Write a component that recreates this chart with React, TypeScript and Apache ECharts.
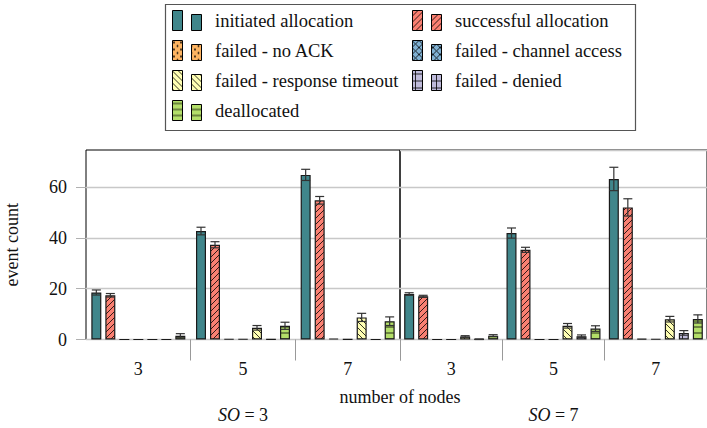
import React, { useEffect, useRef } from 'react';
import * as echarts from 'echarts';

// ---------- data ----------
const nodeCategories = ['3', '5', '7'];
const soValues = ['3', '7'];
const yTickValues = [0, 20, 40, 60];

const seriesNames = [
  'initiated allocation',
  'successful allocation',
  'failed - no ACK',
  'failed - channel access',
  'failed - response timeout',
  'failed - denied',
  'deallocated',
];

// each array: [SO=3: n=3, n=5, n=7,  SO=7: n=3, n=5, n=7]
const initiated = [18.5, 42.7, 64.8, 17.9, 41.9, 63.2];
const initiatedErr = [1.0, 1.5, 2.2, 0.5, 2.0, 4.6];
const successful = [17.4, 37.3, 54.8, 17.0, 35.3, 52.0];
const successfulErr = [0.7, 1.2, 1.5, 0.4, 1.0, 3.4];
const failedNoAck = [0, 0.2, 0.4, 0, 0, 0.3];
const failedNoAckErr = [0, 0, 0, 0, 0, 0];
const failedChannel = [0, 0.2, 0.1, 0, 0, 0.2];
const failedChannelErr = [0, 0, 0, 0, 0, 0];
const failedTimeout = [0, 4.6, 8.7, 1.2, 5.4, 8.0];
const failedTimeoutErr = [0, 0.9, 1.6, 0.3, 0.9, 1.1];
const failedDenied = [0, 0.1, 0, 0.1, 1.3, 2.6];
const failedDeniedErr = [0, 0, 0, 0.1, 0.5, 0.9];
const deallocated = [1.5, 5.4, 7.2, 1.5, 4.3, 8.1];
const deallocatedErr = [0.8, 1.4, 1.7, 0.4, 1.1, 1.6];

const allValues = [initiated, successful, failedNoAck, failedChannel, failedTimeout, failedDenied, deallocated];
const allErrors = [initiatedErr, successfulErr, failedNoAckErr, failedChannelErr, failedTimeoutErr, failedDeniedErr, deallocatedErr];

// ---------- styles ----------
const FONT = 'Liberation Serif, Times New Roman, serif';
const BAR_W = 10;
const BAR_GAP = 4;

function tile(bg: string, body: string, size: number) {
  const svg = `<svg xmlns="http://www.w3.org/2000/svg" width="${size}" height="${size}"><rect width="${size}" height="${size}" fill="${bg}"/>${body}</svg>`;
  return {
    image: 'data:image/svg+xml;charset=utf-8,' + encodeURIComponent(svg),
    repeat: 'repeat',
    imageWidth: size,
    imageHeight: size,
  };
}
const LS = 'stroke="#000" stroke-width="0.8" fill="none"';
const fills: any[] = [
  '#40868b',
  tile('#fa8072', `<path d="M-1,7 L7,-1 M-1,1 L1,-1 M6,8 L8,6" ${LS}/>`, 6),
  tile('#fdb462', `<circle cx="2" cy="2" r="0.9" fill="#000"/><circle cx="5.5" cy="5.5" r="0.9" fill="#000"/>`, 7),
  tile('#80b1d3', `<path d="M0,0 L7,7 M7,0 L0,7" ${LS}/>`, 7),
  tile('#ffffb3', `<path d="M-1,-1 L7,7 M5,-1 L7,1 M-1,5 L1,7" ${LS}/>`, 6),
  tile('#bebada', `<path d="M0,3.5 H7 M3.5,0 V7" ${LS}/>`, 7),
  tile('#b3de69', `<path d="M0,3 H6" ${LS}/>`, 6),
];

const LEGEND_ICON = 'path://M0,0h10v20h-10z M19,4h10v16h-10z';

export default function App() {
  const ref = useRef<HTMLDivElement>(null);
  useEffect(() => {
    if (!ref.current) return;
    const chart = echarts.init(ref.current, null, { renderer: 'svg' });

    const grids = [0, 1].map((p) => ({
      left: 86 + p * 314,
      top: 150,
      width: 314,
      height: 189.5,
      show: true,
      borderColor: '#000',
      borderWidth: 1,
      containLabel: false,
    }));

    const xAxes = [0, 1].map((p) => ({
      type: 'category',
      gridIndex: p,
      data: nodeCategories,
      axisLine: { show: false },
      axisTick: {
        show: true,
        length: 21,
        interval: (idx: number) => !(p === 0 && idx === 0),
        lineStyle: { color: '#999', width: 1 },
      },
      axisLabel: { fontSize: 18, fontFamily: FONT, color: '#111', margin: 20 },
      name: `{i|SO} = ${soValues[p]}`,
      nameLocation: 'middle',
      nameGap: 66,
      nameTextStyle: {
        fontSize: 18,
        fontFamily: FONT,
        color: '#111',
        rich: { i: { fontStyle: 'italic', fontSize: 18, fontFamily: FONT, color: '#111' } },
      },
    }));

    const yAxes = [0, 1].map((p) => ({
      type: 'value',
      gridIndex: p,
      min: 0,
      max: 74.6,
      interval: 20,
      axisLine: { show: false },
      axisTick: p === 0
        ? { show: true, length: 10, lineStyle: { color: '#b0b0b0', width: 1 }, customValues: yTickValues }
        : { show: false },
      axisLabel: p === 0
        ? { show: true, fontSize: 18, fontFamily: FONT, color: '#111', margin: 19, customValues: yTickValues }
        : { show: false },
      splitLine: { show: true, lineStyle: { color: '#c8c8c8', width: 1.3 } },
      name: p === 0 ? 'event count' : '',
      nameLocation: 'middle',
      nameRotate: 90,
      nameGap: 65,
      nameTextStyle: { fontSize: 18, fontFamily: FONT, color: '#111' },
    }));

    const series: any[] = [];
    [0, 1].forEach((p) => {
      seriesNames.forEach((name, i) => {
        series.push({
          type: 'bar',
          name,
          xAxisIndex: p,
          yAxisIndex: p,
          data: allValues[i].slice(p * 3, p * 3 + 3),
          barWidth: BAR_W,
          barGap: `${(BAR_GAP / BAR_W) * 100}%`,
          itemStyle: { color: fills[i], borderColor: '#1a1a1a', borderWidth: 1.2 },
          z: 2,
        });
      });
      const errData: number[][] = [];
      seriesNames.forEach((_, i) => {
        for (let c = 0; c < 3; c++) {
          errData.push([c, i, allValues[i][p * 3 + c], allErrors[i][p * 3 + c]]);
        }
      });
      series.push({
        type: 'custom',
        name: 'error',
        xAxisIndex: p,
        yAxisIndex: p,
        encode: { x: 0, y: 2 },
        z: 5,
        data: errData,
        renderItem: (params: any, api: any) => {
          const cat = api.value(0);
          const si = api.value(1);
          const v = api.value(2);
          const e = api.value(3);
          if (!e) return null;
          const base = api.coord([cat, v]);
          const top = api.coord([cat, v + e])[1];
          const bot = api.coord([cat, v - e])[1];
          const x = base[0] + (si - 3) * (BAR_W + BAR_GAP);
          const hw = 4.5;
          const st = { stroke: '#333', lineWidth: 1.2 };
          return {
            type: 'group',
            children: [
              { type: 'line', shape: { x1: x, y1: top, x2: x, y2: bot }, style: st },
              { type: 'line', shape: { x1: x - hw, y1: top, x2: x + hw, y2: top }, style: st },
              { type: 'line', shape: { x1: x - hw, y1: bot, x2: x + hw, y2: bot }, style: st },
            ],
          };
        },
      });
    });

    const legendCommon = {
      orient: 'vertical',
      top: 10,
      padding: 0,
      itemWidth: 30,
      itemHeight: 20,
      itemGap: 9,
      icon: LEGEND_ICON,
      selectedMode: false,
      itemStyle: { borderColor: '#000', borderWidth: 1 },
      formatter: (name: string) => `{s|}${name}`,
      textStyle: {
        fontSize: 18.5,
        fontFamily: FONT,
        color: '#111',
        rich: { s: { width: 8, fontSize: 18.5, fontFamily: FONT } },
      },
    };

    chart.setOption({
      animation: false,
      backgroundColor: '#fff',
      textStyle: { fontFamily: FONT, fontSize: 18, color: '#111' },
      grid: grids,
      xAxis: xAxes,
      yAxis: yAxes,
      legend: [
        { ...legendCommon, left: 172, data: [seriesNames[0], seriesNames[2], seriesNames[4], seriesNames[6]] },
        { ...legendCommon, left: 412, data: [seriesNames[1], seriesNames[3], seriesNames[5]] },
      ],
      graphic: [
        {
          type: 'rect',
          shape: { x: 165.5, y: 4.5, width: 470, height: 126 },
          style: { fill: 'none', stroke: '#555', lineWidth: 1.2 },
          silent: true,
        },
        {
          type: 'text',
          x: 400,
          y: 397,
          style: {
            text: 'number of nodes',
            font: `18px ${FONT}`,
            fill: '#111',
            align: 'center',
            verticalAlign: 'middle',
            textAlign: 'center',
            textVerticalAlign: 'middle',
          },
          silent: true,
        },
      ],
      series,
    });

    return () => chart.dispose();
  }, []);

  return <div ref={ref} style={{ position: 'absolute', left: 0, top: 0, width: 707, height: 428 }} />;
}
